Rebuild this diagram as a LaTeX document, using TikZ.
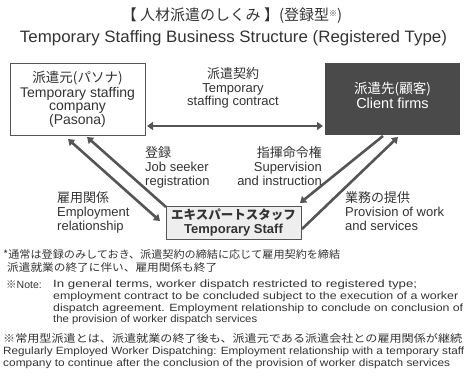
\documentclass[tikz,border=0pt]{standalone}
\usepackage{fontspec}
\usepackage{graphicx}
\setmainfont{Liberation Sans}
\newfontfamily\cjk{Noto Sans CJK JP}
\usetikzlibrary{arrows.meta}
\definecolor{txt}{HTML}{333333}
\definecolor{arr}{HTML}{555555}
\definecolor{dark}{HTML}{4A4A4A}
\definecolor{light}{HTML}{EEEEEE}
\newcommand{\fitto}[2]{\resizebox{#1}{\height}{#2}}
\tikzset{
  box/.style={draw=arr, line width=0.8pt},
  conn/.style={draw=arr, line width=2.6pt, -{Triangle[length=6pt,width=8pt]}},
  both/.style={conn, {Triangle[length=6pt,width=8pt]}-{Triangle[length=6pt,width=8pt]}},
  lbl/.style={text=txt, font=\fontsize{13}{13.5}\selectfont, align=left, inner sep=0pt},
  note/.style={text=txt, font=\fontsize{10.5}{12}\selectfont, anchor=west, inner sep=0pt},
  jnote/.style={note, font=\fontsize{10.6}{12}\selectfont\cjk},
}
\begin{document}
\begin{tikzpicture}[x=1pt,y=-1pt]
\useasboundingbox (0,0) rectangle (466,382);
% titles
\node[text=txt, inner sep=0pt, font=\fontsize{15}{16}\selectfont\cjk] (t1) at (232,16) {【 人材派遣のしくみ 】(登録型\raisebox{0.5ex}{\fontsize{8}{8}\selectfont ※})};
\node[text=txt, inner sep=0pt, font=\fontsize{16.5}{18}\selectfont] (t2) at (233.5,38) {\fitto{427pt}{Temporary Staffing Business Structure (Registered Type)}};
% boxes
\node[box, fill=white, minimum width=135pt, minimum height=72pt, inner sep=0pt] (pas) at (77.5,99) {};
\node[text=txt, inner sep=0pt, align=center, font=\fontsize{14}{12.5}\selectfont] (pastx) at (77.5,99)
  {{\fontsize{13.5}{13}\selectfont\cjk 派遣元(パソナ)}\\[1.5pt]Temporary staffing\\company\\(Pasona)};
\node[fill=dark, minimum width=135pt, minimum height=72pt, inner sep=0pt] (cli) at (392.5,99) {};
\node[text=white, inner sep=0pt, align=center, font=\fontsize{14.5}{15}\selectfont] (clitx) at (392.5,95)
  {{\fontsize{13.5}{13}\selectfont\cjk 派遣先(顧客)}\\Client firms};
\node[box, fill=light, minimum width=135pt, minimum height=33pt, inner sep=0pt, align=center,
  text=txt, font=\fontsize{13}{14}\selectfont\bfseries] (stf) at (233.5,222.5)
  {{\fontsize{12.5}{13}\selectfont\cjk エキスパートスタッフ}\\Temporary Staff};
% coordinates for connector ends
\coordinate (pR) at (147,126);
\coordinate (cL) at (323,126);
\coordinate (e1) at (68,139);
\coordinate (e2) at (160,221);
\coordinate (r1) at (166,207);
\coordinate (r2) at (87,137);
\coordinate (s1) at (383,136);
\coordinate (s2) at (300,203);
\coordinate (w1) at (302,229);
\coordinate (w2) at (398,137);
% connectors
\draw[both] (pR) -- (cL);
\draw[both] (e1) -- (e2);
\draw[conn] (r1) -- (r2);
\draw[conn] (s1) -- (s2);
\draw[conn] (w1) -- (w2);
% labels
\node[lbl, align=center] (lc) at (233,88) {{\cjk 派遣契約}\\Temporary\\staffing contract};
\node[lbl, anchor=north west] (lr) at (145,146) {{\cjk 登録}\\[1pt]Job seeker\\registration};
\node[lbl, anchor=north west] (le) at (57,191) {{\cjk 雇用関係}\\[1pt]Employment\\relationship};
\node[lbl, anchor=north east, align=right] (ls) at (322,146) {{\cjk 指揮命令権}\\[1pt]Supervision\\and instruction};
\node[lbl, anchor=north west] (lw) at (345,191) {{\cjk 業務の提供}\\[1pt]Provision of work\\and services};
% notes
\node[jnote] (n1) at (3,254) {\fitto{337pt}{*通常は登録のみしておき、派遣契約の締結に応じて雇用契約を締結}};
\node[jnote] (n2) at (7,267) {\fitto{210pt}{派遣就業の終了に伴い、雇用関係も終了}};
\node[note] (n3a) at (6,285) {{\cjk ※}Note:};
\node[note] (n3) at (53,285) {\fitto{364pt}{In general terms, worker dispatch restricted to registered type;}};
\node[note] (n4) at (53,297) {\fitto{405pt}{employment contract to be concluded subject to the execution of a worker}};
\node[note] (n5) at (53,309) {\fitto{410pt}{dispatch agreement. Employment relationship to conclude on conclusion of}};
\node[note] (n6) at (53,320) {\fitto{204pt}{the provision of worker dispatch services}};
\node[jnote] (n7) at (3,338) {\fitto{459pt}{※常用型派遣とは、派遣就業の終了後も、派遣元である派遣会社との雇用関係が継続}};
\node[note] (n8) at (3,352) {\fitto{461pt}{Regularly Employed Worker Dispatching: Employment relationship with a temporary staff}};
\node[note] (n9) at (3,364) {\fitto{447pt}{company to continue after the conclusion of the provision of worker dispatch services}};
\end{tikzpicture}
\end{document}
